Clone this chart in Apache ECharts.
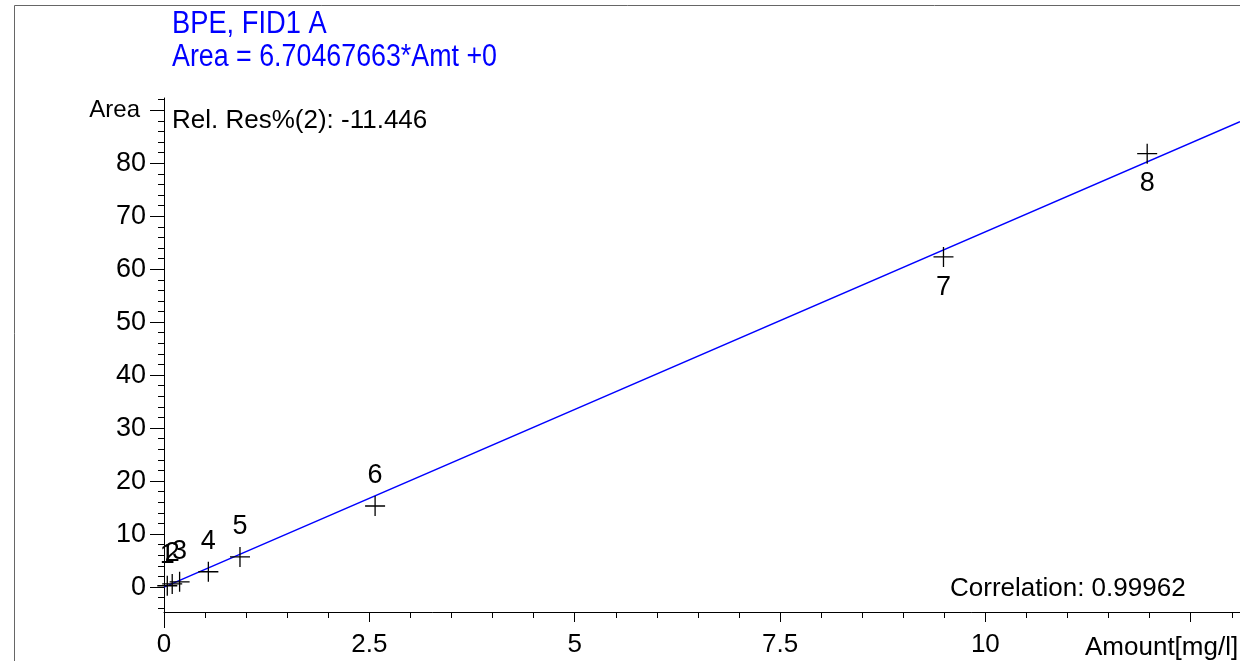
<!DOCTYPE html>
<html>
<head>
<meta charset="utf-8">
<script src="https://cdn.jsdelivr.net/npm/echarts@6/dist/echarts.min.js"></script>
<style>
  html, body { margin: 0; padding: 0; background: #ffffff; }
  #chart { width: 1240px; height: 661px; }
</style>
</head>
<body>
<div id="chart"></div>
<script>
// Calibration: BPE on FID1 A, linear fit through the origin
const compound = 'BPE, FID1 A';
const slope = 6.70467663;
const intercept = 0;
const relResLevel = 2;
const relResValue = -11.446;
const correlation = 0.99962;

// Calibration levels (amount in mg/l, peak area)
const levelNames = ['1', '2', '3', '4', '5', '6', '7', '8'];
const amounts = [0.04, 0.10, 0.19, 0.54, 0.925, 2.57, 9.49, 11.97];
const areas   = [0.25, 0.59, 1.0, 2.9, 5.7, 15.3, 62.3, 81.8];
// Levels whose number is written under the marker
const labelsBelow = ['7', '8'];

// Axis ranges and ticks
const xRange = [0, 13.1];
const yRange = [-4.7, 92.3];
const xMajorTicks = [0, 2.5, 5, 7.5, 10, 12.5];
const xTickLabels = [0, 2.5, 5, 7.5, 10];
const xMinorStep = 0.5;
const yMajorTicks = [0, 10, 20, 30, 40, 50, 60, 70, 80, 90];
const yTickLabels = [0, 10, 20, 30, 40, 50, 60, 70, 80, 90];
const yMinorStep = 2;
const yTitle = 'Area';
const xTitle = 'Amount[mg/l]';

function stepsBetween(lo, hi, step) {
  const out = [];
  for (let v = Math.ceil(lo / step) * step; v <= hi + 1e-9; v += step) {
    out.push(Math.round(v * 1000) / 1000);
  }
  return out;
}
const xMinorTicks = stepsBetween(xRange[0], xRange[1], xMinorStep);
const yMinorTicks = stepsBetween(yRange[0], yRange[1], yMinorStep);

const FONT = "'Liberation Sans', Arial, sans-serif";

const chart = echarts.init(document.getElementById('chart'), null, { renderer: 'canvas' });

const crossSymbol = 'path://M10,0 L10,20 M0,10 L20,10';

const points = amounts.map((a, i) => {
  const below = labelsBelow.includes(levelNames[i]);
  return {
    value: [a, areas[i]],
    name: levelNames[i],
    label: { position: below ? 'bottom' : 'top' }
  };
});

const fitLine = [
  [xRange[0], intercept + slope * xRange[0]],
  [xRange[1], intercept + slope * xRange[1]]
];

const axisBlack = { lineStyle: { color: '#000', width: 1 } };

// Blue header text is drawn slightly condensed
const headerStyle = { fill: '#0000ff', fontSize: 31, fontFamily: FONT, verticalAlign: 'middle' };

const option = {
  backgroundColor: '#ffffff',
  animation: false,
  textStyle: { fontFamily: FONT },
  grid: { left: 164, top: 98, width: 1076, height: 514, containLabel: false },
  xAxis: [
    {
      type: 'value', min: xRange[0], max: xRange[1], position: 'bottom',
      axisLine: { show: true, onZero: false, ...axisBlack },
      axisTick: { show: true, length: 10, customValues: xMajorTicks, lineStyle: { color: '#000' } },
      axisLabel: {
        show: true, customValues: xTickLabels, margin: 20,
        fontSize: 26, color: '#000', fontFamily: FONT,
        formatter: v => String(v)
      },
      splitLine: { show: false }
    },
    {
      type: 'value', min: xRange[0], max: xRange[1], position: 'bottom',
      axisLine: { show: false, onZero: false },
      axisTick: { show: true, length: 6, customValues: xMinorTicks, lineStyle: { color: '#000' } },
      axisLabel: { show: false },
      splitLine: { show: false }
    },
    {
      // longer tick under the origin where the value axis meets the amount axis
      type: 'value', min: xRange[0], max: xRange[1], position: 'bottom',
      axisLine: { show: false, onZero: false },
      axisTick: { show: true, length: 16, customValues: [xRange[0]], lineStyle: { color: '#000' } },
      axisLabel: { show: false },
      splitLine: { show: false }
    }
  ],
  yAxis: [
    {
      type: 'value', min: yRange[0], max: yRange[1], position: 'left',
      axisLine: { show: true, onZero: false, ...axisBlack },
      axisTick: { show: true, length: 14, customValues: yMajorTicks, lineStyle: { color: '#000' } },
      axisLabel: {
        show: true, customValues: yTickLabels, margin: 18,
        fontSize: 27, color: '#000', fontFamily: FONT,
        formatter: v => (v === 90 ? '{t|' + yTitle + '}' : String(v)),
        rich: { t: { fontSize: 24, color: '#000', fontFamily: FONT, padding: [0, 6, 0, 0] } }
      },
      splitLine: { show: false }
    },
    {
      type: 'value', min: yRange[0], max: yRange[1], position: 'left',
      axisLine: { show: false, onZero: false },
      axisTick: { show: true, length: 6, customValues: yMinorTicks, lineStyle: { color: '#000' } },
      axisLabel: { show: false },
      splitLine: { show: false }
    }
  ],
  series: [
    {
      type: 'line',
      data: fitLine,
      xAxisIndex: 0, yAxisIndex: 0,
      showSymbol: false, symbol: 'none',
      lineStyle: { color: '#0000ff', width: 1.5 },
      silent: true, z: 2
    },
    {
      type: 'scatter',
      data: points,
      xAxisIndex: 0, yAxisIndex: 0,
      symbol: crossSymbol, symbolSize: 20,
      itemStyle: { color: 'rgba(0,0,0,0)', borderColor: '#000', borderWidth: 1.3, opacity: 1 },
      label: {
        show: true, distance: 6, opacity: 1,
        formatter: p => p.name,
        fontSize: 27, color: '#000', fontFamily: FONT
      },
      silent: true, z: 3
    }
  ],
  graphic: [
    {
      type: 'rect', silent: true, z: 0,
      shape: { x: 14.5, y: 5.5, width: 1400, height: 800 },
      style: { fill: null, stroke: '#666', lineWidth: 1 }
    },
    {
      type: 'text', x: 172, y: 24, scaleX: 0.88, silent: true,
      style: { text: compound, ...headerStyle }
    },
    {
      type: 'text', x: 172, y: 57, scaleX: 0.865, silent: true,
      style: { text: 'Area = ' + slope.toFixed(8) + '*Amt +' + intercept, ...headerStyle }
    },
    {
      type: 'text', x: 172, y: 121, silent: true,
      style: {
        text: 'Rel. Res%(' + relResLevel + '): ' + relResValue.toFixed(3),
        fill: '#000', fontSize: 26, fontFamily: FONT, verticalAlign: 'middle'
      }
    },
    {
      type: 'text', x: 950, y: 589, silent: true,
      style: {
        text: 'Correlation: ' + correlation.toFixed(5),
        fill: '#000', fontSize: 26, fontFamily: FONT, verticalAlign: 'middle'
      }
    },
    {
      type: 'text', x: 1085, y: 648, silent: true,
      style: { text: xTitle, fill: '#000', fontSize: 26, fontFamily: FONT, verticalAlign: 'middle' }
    }
  ]
};

chart.setOption(option);
</script>
</body>
</html>
